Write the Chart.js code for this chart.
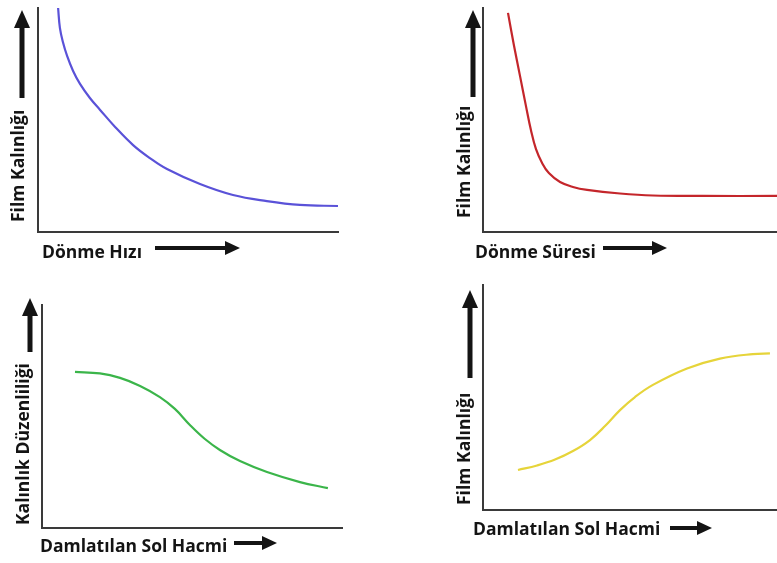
<!DOCTYPE html>
<html>
<head>
<meta charset="utf-8">
<script src="https://cdn.jsdelivr.net/npm/chart.js@4"></script>
<style>
  html, body { margin: 0; padding: 0; background: #fff; }
  body { width: 777px; height: 563px; position: relative; overflow: hidden; }
  .panel { position: absolute; }
</style>
</head>
<body>
<div class="panel" style="left:0;top:0"><canvas id="c1" width="388" height="281"></canvas></div>
<div class="panel" style="left:388px;top:0"><canvas id="c2" width="389" height="281"></canvas></div>
<div class="panel" style="left:0;top:281px"><canvas id="c3" width="388" height="282"></canvas></div>
<div class="panel" style="left:388px;top:281px"><canvas id="c4" width="389" height="282"></canvas></div>
<script>
// Dönme Hızı -> Film Kalınlığı (blue)
const speedX = [0.67, 0.73, 0.83, 0.97, 1.17, 1.40, 1.73, 2.07, 2.57, 3.17, 3.73, 4.30, 5.40, 6.50, 7.63, 8.73, 10.0];
const speedY = [10.0, 9.11, 8.48, 7.86, 7.19, 6.61, 5.98, 5.45, 4.69, 3.88, 3.30, 2.81, 2.14, 1.65, 1.38, 1.21, 1.16];

// Dönme Süresi -> Film Kalınlığı (red)
const timeX = [0.85, 1.05, 1.26, 1.46, 1.63, 1.80, 2.01, 2.24, 2.62, 3.06, 3.54, 4.66, 5.78, 7.48, 10.0];
const timeY = [9.78, 8.35, 6.96, 5.63, 4.55, 3.71, 3.08, 2.63, 2.23, 2.01, 1.88, 1.72, 1.63, 1.61, 1.61];

// Damlatılan Sol Hacmi -> Kalınlık Düzenliliği (green)
const volX = [1.10, 1.93, 2.60, 3.27, 3.93, 4.43, 4.93, 5.43, 5.93, 6.60, 7.50, 8.60, 9.53];
const uniformY = [7.00, 6.93, 6.73, 6.37, 5.87, 5.34, 4.62, 3.99, 3.50, 3.00, 2.51, 2.06, 1.79];

// Damlatılan Sol Hacmi -> Film Kalınlığı (yellow)
const vol2X = [1.19, 1.84, 2.45, 3.06, 3.64, 4.15, 4.66, 5.17, 5.78, 6.94, 8.06, 9.18, 9.76];
const thickY = [1.78, 1.98, 2.24, 2.62, 3.11, 3.73, 4.44, 5.02, 5.56, 6.29, 6.73, 6.93, 6.96];

const FONT = '700 17.5px "Open Sans"';
const INK = '#141414';

function toPoints(xs, ys) {
  return xs.map((x, i) => ({ x: x, y: ys[i] }));
}

function arrow(ctx, x1, y1, x2, y2, shaft, headLen, headW) {
  const ang = Math.atan2(y2 - y1, x2 - x1);
  const len = Math.hypot(x2 - x1, y2 - y1);
  ctx.save();
  ctx.translate(x1, y1);
  ctx.rotate(ang);
  ctx.fillStyle = INK;
  ctx.fillRect(0, -shaft / 2, len - headLen + 1, shaft);
  ctx.beginPath();
  ctx.moveTo(len, 0);
  ctx.lineTo(len - headLen, -headW / 2);
  ctx.lineTo(len - headLen, headW / 2);
  ctx.closePath();
  ctx.fill();
  ctx.restore();
}

// axis titles with the long arrows next to them
const axisNotes = {
  id: 'axisNotes',
  afterDraw(chart, args, o) {
    const ctx = chart.ctx;
    ctx.save();
    ctx.font = FONT;
    ctx.fillStyle = INK;
    ctx.textBaseline = 'alphabetic';
    ctx.textAlign = 'left';
    ctx.fillText(o.x.text, o.x.x, o.x.y);
    arrow(ctx, o.x.a[0], o.x.a[1], o.x.a[2], o.x.a[3], 4, 15, 14);

    ctx.save();
    ctx.translate(o.y.x, o.y.y);
    ctx.rotate(-Math.PI / 2);
    ctx.fillText(o.y.text, 0, 0);
    ctx.restore();
    arrow(ctx, o.y.a[0], o.y.a[1], o.y.a[2], o.y.a[3], 5, 18, 16);
    ctx.restore();
  }
};

function makeChart(id, xs, ys, color, pad, notes) {
  const axis = {
    type: 'linear',
    min: 0,
    max: 10,
    ticks: { display: false },
    grid: { display: false, drawTicks: false },
    border: { display: true, color: '#3a3a3a', width: 2 }
  };
  return new Chart(document.getElementById(id), {
    type: 'line',
    data: {
      datasets: [{
        data: toPoints(xs, ys),
        borderColor: color,
        borderWidth: 2.2,
        pointRadius: 0,
        tension: 0.4,
        clip: false,
        fill: false
      }]
    },
    options: {
      responsive: false,
      animation: false,
      layout: { padding: pad },
      plugins: {
        legend: { display: false },
        tooltip: { enabled: false },
        axisNotes: notes
      },
      scales: { x: Object.assign({}, axis), y: Object.assign({}, axis) }
    },
    plugins: [axisNotes]
  });
}

function build() {
  makeChart('c1', speedX, speedY, '#5a52d8',
    { left: 38, top: 8, right: 50, bottom: 49 },
    { x: { text: 'Dönme Hızı', x: 42, y: 258, a: [155, 248, 240, 248] },
      y: { text: 'Film Kalınlığı', x: 24, y: 222, a: [22, 98, 22, 10] } });

  makeChart('c2', timeX, timeY, '#c4262b',
    { left: 95, top: 8, right: 0, bottom: 49 },
    { x: { text: 'Dönme Süresi', x: 87, y: 258, a: [215, 248, 279, 248] },
      y: { text: 'Film Kalınlığı', x: 82, y: 218, a: [85, 97, 85, 10] } });

  makeChart('c3', volX, uniformY, '#3bb54a',
    { left: 42, top: 24, right: 46, bottom: 35 },
    { x: { text: 'Damlatılan Sol Hacmi', x: 40, y: 271, a: [234, 262, 277, 262] },
      y: { text: 'Kalınlık Düzenliliği', x: 29, y: 244, a: [30, 71, 30, 17] } });

  makeChart('c4', vol2X, thickY, '#e6d43a',
    { left: 95, top: 4, right: 0, bottom: 53 },
    { x: { text: 'Damlatılan Sol Hacmi', x: 85, y: 254, a: [282, 247, 324, 247] },
      y: { text: 'Film Kalınlığı', x: 82, y: 224, a: [82, 97, 82, 9] } });
}

if (document.fonts && document.fonts.load) {
  document.fonts.load(FONT).then(build, build);
} else {
  build();
}
</script>
</body>
</html>
